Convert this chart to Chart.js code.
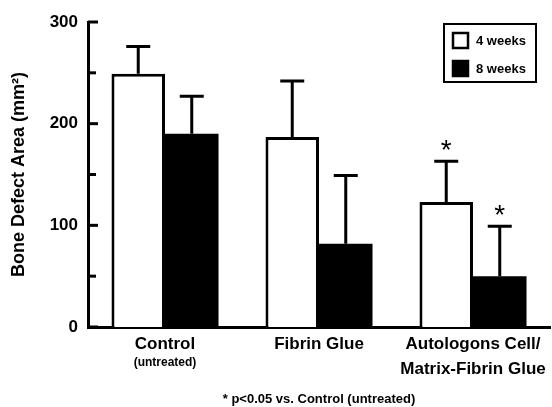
<!DOCTYPE html>
<html>
<head>
<meta charset="utf-8">
<script src="https://cdn.jsdelivr.net/npm/chart.js@4/dist/chart.umd.min.js"></script>
<style>
  html, body { margin: 0; padding: 0; background: #fff; }
  #wrap { width: 552px; height: 407px; position: relative; }
</style>
</head>
<body>
<div id="wrap"><canvas id="chart"></canvas></div>
<script>
// data
const categories = [['Control'], ['Fibrin Glue'], ['Autologons Cell/', 'Matrix-Fibrin Glue']];
const subLabels = ['(untreated)', '', ''];
const seriesLabels = ['4 weeks', '8 weeks'];
const weeks4 = [249, 187, 123];
const weeks4Err = [27, 55, 40];
const weeks8 = [190, 82, 50];
const weeks8Err = [37, 67, 49];
const weeks4Sig = [false, false, true];
const weeks8Sig = [false, false, true];
const yTitle = 'Bone Defect Area (mm\u00B2)';
const footnote = '* p<0.05 vs. Control (untreated)';

const errors = [weeks4Err, weeks8Err];
const sigs = [weeks4Sig, weeks8Sig];

Chart.defaults.font.family = '"Liberation Sans", Arial, Helvetica, sans-serif';
Chart.defaults.color = '#000';

// error bars + significance stars
const errorBars = {
    id: 'errorBars',
    afterDatasetsDraw(chart) {
        const ctx = chart.ctx;
        const yScale = chart.scales.y;
        ctx.save();
        ctx.strokeStyle = '#000';
        ctx.lineWidth = 3;
        chart.data.datasets.forEach((ds, i) => {
            const meta = chart.getDatasetMeta(i);
            meta.data.forEach((bar, j) => {
                const top = yScale.getPixelForValue(ds.data[j] + errors[i][j]);
                ctx.beginPath();
                ctx.moveTo(bar.x, bar.y);
                ctx.lineTo(bar.x, top);
                ctx.moveTo(bar.x - 12, top);
                ctx.lineTo(bar.x + 12, top);
                ctx.stroke();
                if (sigs[i][j]) {
                    ctx.fillStyle = '#000';
                    ctx.font = '28px "Liberation Sans", Arial, sans-serif';
                    ctx.textAlign = 'center';
                    ctx.textBaseline = 'alphabetic';
                    ctx.fillText('*', bar.x, top - 2);
                }
            });
        });
        ctx.restore();
    }
};

// inward tick marks on the y axis, plus the small sub label under a category
const axisExtras = {
    id: 'axisExtras',
    afterDraw(chart) {
        const ctx = chart.ctx;
        const y = chart.scales.y;
        const x = chart.scales.x;
        ctx.save();
        ctx.strokeStyle = '#000';
        ctx.lineWidth = 3;
        y.ticks.forEach(t => {
            const py = y.getPixelForValue(t.value);
            const len = t.value % 100 === 0 ? 10 : 8;
            ctx.beginPath();
            ctx.moveTo(y.right, py);
            ctx.lineTo(y.right + len, py);
            ctx.stroke();
        });
        ctx.fillStyle = '#000';
        ctx.font = 'bold 12px "Liberation Sans", Arial, sans-serif';
        ctx.textAlign = 'center';
        ctx.textBaseline = 'middle';
        subLabels.forEach((s, i) => {
            if (s) ctx.fillText(s, x.getPixelForValue(i), chart.chartArea.bottom + 36);
        });
        ctx.restore();
    }
};

// boxed legend in the top right corner
const boxLegend = {
    id: 'boxLegend',
    afterDraw(chart) {
        const ctx = chart.ctx;
        const area = chart.chartArea;
        const right = area.right - 14, left = right - 92;
        const top = area.top + 2, bottom = top + 58;
        ctx.save();
        ctx.strokeStyle = '#000';
        ctx.lineWidth = 2;
        ctx.strokeRect(left, top, right - left, bottom - top);
        ctx.font = 'bold 13px "Liberation Sans", Arial, sans-serif';
        ctx.textAlign = 'left';
        ctx.textBaseline = 'middle';
        chart.data.datasets.forEach((ds, i) => {
            const cy = top + 16 + i * 28;
            ctx.fillStyle = ds.backgroundColor;
            ctx.fillRect(left + 8, cy - 8, 17, 17);
            ctx.lineWidth = 2.5;
            ctx.strokeRect(left + 9, cy - 7, 15, 15);
            ctx.fillStyle = '#000';
            ctx.fillText(ds.label, left + 32, cy + 1);
        });
        ctx.restore();
    }
};

new Chart(document.getElementById('chart'), {
    type: 'bar',
    data: {
        labels: categories,
        datasets: [
            {
                label: seriesLabels[0],
                data: weeks4,
                backgroundColor: '#ffffff',
                borderColor: '#000000',
                borderWidth: 3
            },
            {
                label: seriesLabels[1],
                data: weeks8,
                backgroundColor: '#000000',
                borderColor: '#000000',
                borderWidth: 0
            }
        ]
    },
    options: {
        responsive: true,
        maintainAspectRatio: false,
        animation: false,
        layout: { padding: { top: 22, right: 2, left: 0, bottom: 0 } },
        datasets: { bar: { categoryPercentage: 0.695, barPercentage: 1 } },
        scales: {
            x: {
                grid: { display: false, drawTicks: false },
                border: { display: true, width: 3, color: '#000' },
                ticks: {
                    padding: 5,
                    maxRotation: 0,
                    autoSkip: false,
                    font: { size: 17, weight: 'bold', lineHeight: 1.45 }
                },
                title: {
                    display: true,
                    text: footnote,
                    font: { size: 13, weight: 'bold' },
                    padding: 0
                },
                afterFit: s => { s.height = 80; }
            },
            y: {
                min: 0,
                max: 300,
                grid: { display: false, drawTicks: false },
                border: { display: true, width: 3, color: '#000' },
                ticks: {
                    stepSize: 50,
                    padding: 10,
                    font: { size: 17, weight: 'bold' },
                    callback: v => (v % 100 === 0 ? v : '')
                },
                title: {
                    display: true,
                    text: yTitle,
                    font: { size: 18, weight: 'bold' },
                    padding: { top: 8, bottom: 0 }
                },
                afterFit: s => { s.width = 88; }
            }
        },
        plugins: {
            legend: { display: false },
            tooltip: { enabled: false }
        }
    },
    plugins: [errorBars, axisExtras, boxLegend]
});
</script>
</body>
</html>
